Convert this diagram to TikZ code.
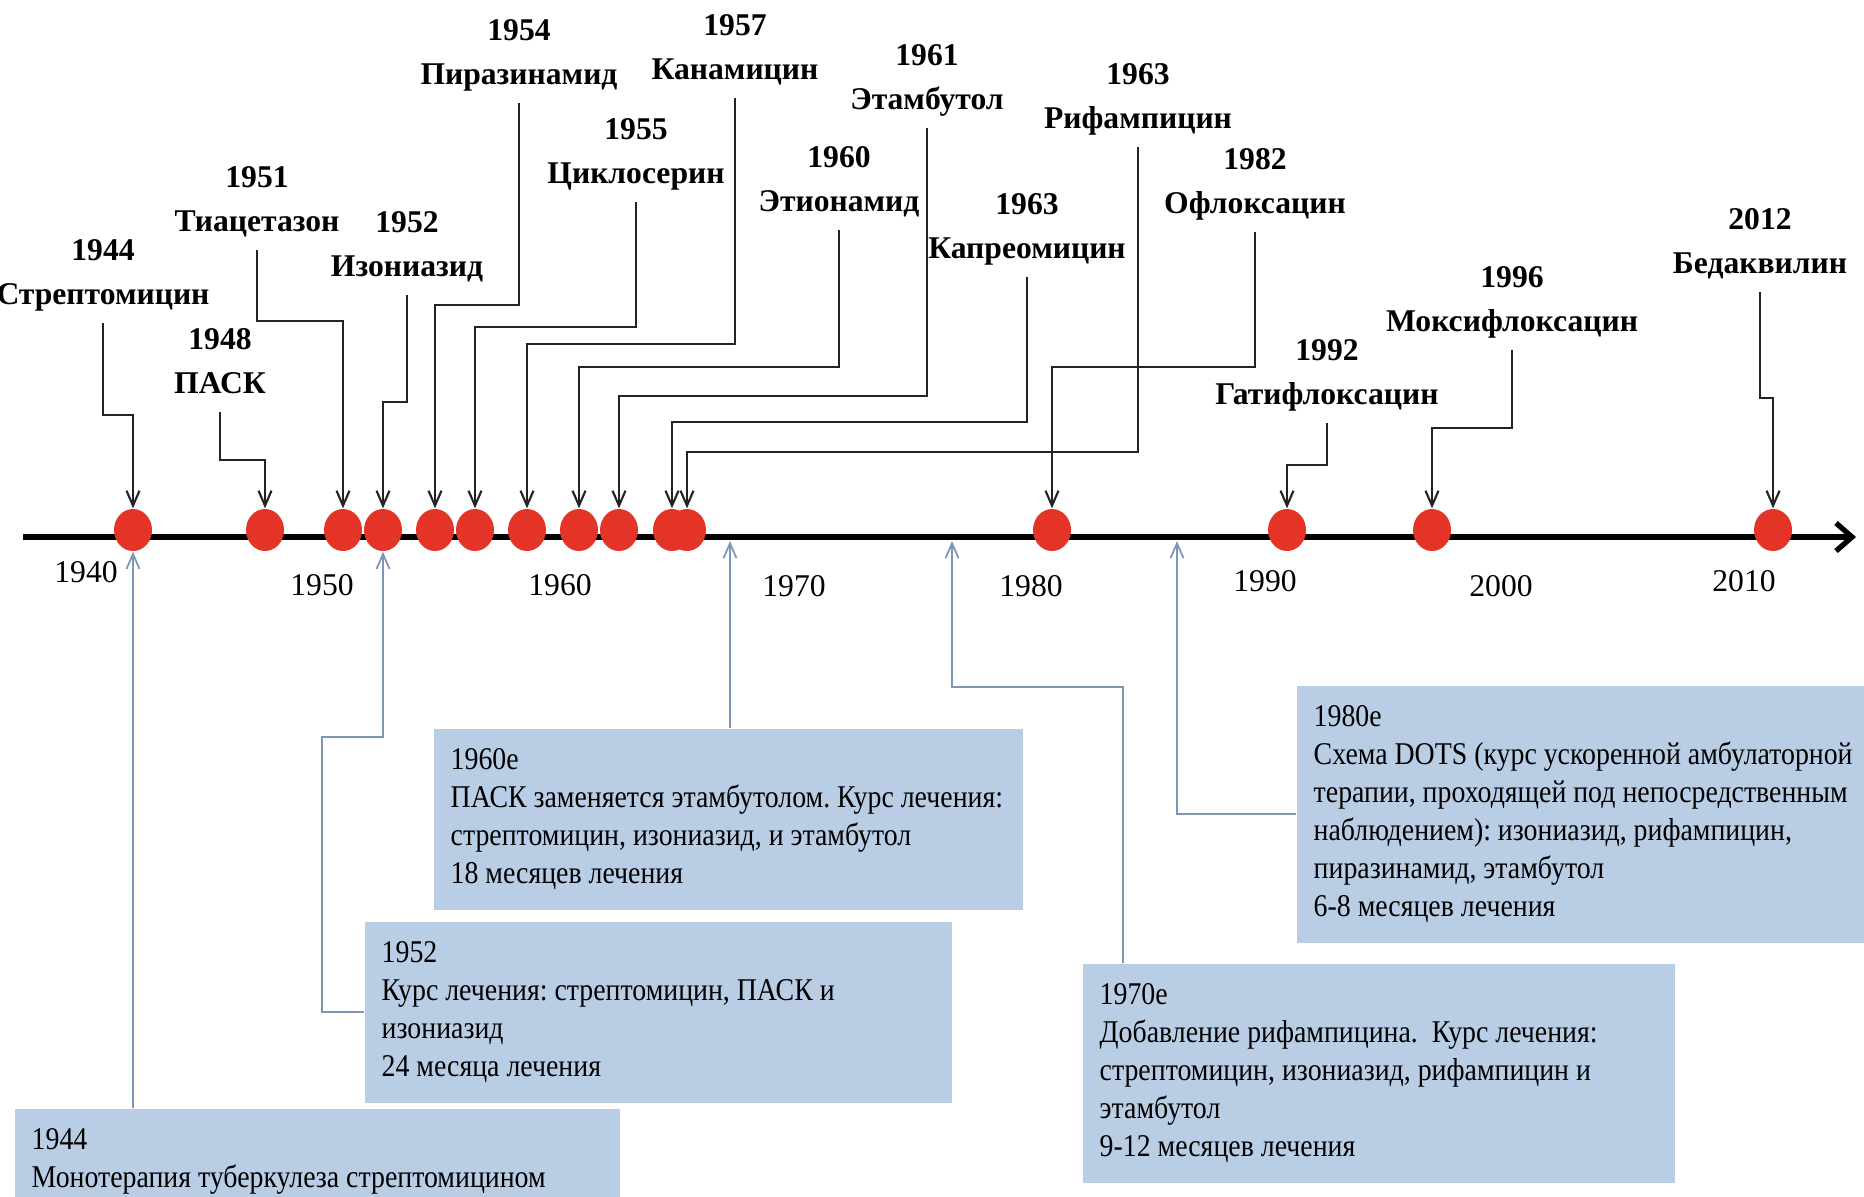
\documentclass[tikz,border=0pt]{standalone}
\usepackage{fontspec}
\setmainfont{Liberation Serif}
\newfontfamily\boxfont[FakeStretch=0.88]{Liberation Serif}
\usetikzlibrary{arrows.meta,shapes.geometric}
\definecolor{dotred}{RGB}{228,52,40}
\definecolor{boxblue}{RGB}{185,205,229}
\definecolor{lineblue}{RGB}{125,150,182}
\definecolor{linegray}{RGB}{35,35,35}
\frenchspacing

\begin{document}
\begin{tikzpicture}[x=0.1mm,y=-0.1mm,
    drug/.style={anchor=south,align=center,inner xsep=0pt,inner ysep=1.4pt,
      font=\fontsize{9}{12.5}\selectfont\bfseries},
    yearlbl/.style={font=\fontsize{9}{10}\selectfont},
    event/.style={ellipse,fill=dotred,minimum width=3.8mm,minimum height=4.2mm,inner sep=0pt},
    conn/.style={draw=linegray,line width=0.6pt,-{Straight Barb[length=1.5mm,width=1.3mm]}},
    bconn/.style={draw=lineblue,line width=0.5pt,-{Straight Barb[length=1.5mm,width=1.3mm]}},
    period/.style={anchor=north west,fill=boxblue,align=flush left,inner xsep=1.7mm,inner ysep=2mm,
      font=\boxfont\fontsize{9}{10.8}\selectfont}]
    \useasboundingbox (0,0) rectangle (1864,1196);
    \fill[white] (0,0) rectangle (1864,1196);
    \clip (0,0) rectangle (1864,1196);

    % Ось времени
    \coordinate (ax0) at (23,537);
    \coordinate (ax1) at (1856,537);
    \draw[line width=1.5pt,-{Straight Barb[length=1.6mm,width=2.8mm]}] (ax0) -- (ax1);

    \node[yearlbl] (y1940) at (86,572) {1940};
    \node[yearlbl] (y1950) at (322,585) {1950};
    \node[yearlbl] (y1960) at (560,585) {1960};
    \node[yearlbl] (y1970) at (794,586) {1970};
    \node[yearlbl] (y1980) at (1031,586) {1980};
    \node[yearlbl] (y1990) at (1265,581) {1990};
    \node[yearlbl] (y2000) at (1501,586) {2000};
    \node[yearlbl] (y2010) at (1744,581) {2010};

    % Препараты на оси
    \node[event] (d1) at (133,530) {};
    \node[event] (d2) at (265,530) {};
    \node[event] (d3) at (343,530) {};
    \node[event] (d4) at (383,530) {};
    \node[event] (d5) at (435,530) {};
    \node[event] (d6) at (475,530) {};
    \node[event] (d7) at (527,530) {};
    \node[event] (d8) at (579,530) {};
    \node[event] (d9) at (619,530) {};
    \node[event] (d10) at (672,530) {};
    \node[event] (d11) at (687,530) {};
    \node[event] (d12) at (1052,530) {};
    \node[event] (d13) at (1287,530) {};
    \node[event] (d14) at (1432,530) {};
    \node[event] (d15) at (1773,530) {};

    % Подписи препаратов
    \node[drug] (l1) at (103,323) {1944\\Стрептомицин\strut};
    \node[drug] (l2) at (220,412) {1948\\ПАСК\strut};
    \node[drug] (l3) at (257,250) {1951\\Тиацетазон\strut};
    \node[drug] (l4) at (407,295) {1952\\Изониазид\strut};
    \node[drug] (l5) at (519,103) {1954\\Пиразинамид\strut};
    \node[drug] (l6) at (636,202) {1955\\Циклосерин\strut};
    \node[drug] (l7) at (735,98) {1957\\Канамицин\strut};
    \node[drug] (l8) at (839,230) {1960\\Этионамид\strut};
    \node[drug] (l9) at (927,128) {1961\\Этамбутол\strut};
    \node[drug] (l10) at (1027,277) {1963\\Капреомицин\strut};
    \node[drug] (l11) at (1138,147) {1963\\Рифампицин\strut};
    \node[drug] (l12) at (1255,232) {1982\\Офлоксацин\strut};
    \node[drug] (l13) at (1327,423) {1992\\Гатифлоксацин\strut};
    \node[drug] (l14) at (1512,350) {1996\\Моксифлоксацин\strut};
    \node[drug] (l15) at (1760,292) {2012\\Бедаквилин\strut};

    % Стрелки к оси
    \draw[conn] (l1.south) |- (d1.north |- 0,415) -- (d1.north);
    \draw[conn] (l2.south) |- (d2.north |- 0,460) -- (d2.north);
    \draw[conn] (l3.south) |- (d3.north |- 0,321) -- (d3.north);
    \draw[conn] (l4.south) |- (d4.north |- 0,402) -- (d4.north);
    \draw[conn] (l5.south) |- (d5.north |- 0,305) -- (d5.north);
    \draw[conn] (l6.south) |- (d6.north |- 0,327) -- (d6.north);
    \draw[conn] (l7.south) |- (d7.north |- 0,344) -- (d7.north);
    \draw[conn] (l8.south) |- (d8.north |- 0,367) -- (d8.north);
    \draw[conn] (l9.south) |- (d9.north |- 0,396) -- (d9.north);
    \draw[conn] (l10.south) |- (d10.north |- 0,422) -- (d10.north);
    \draw[conn] (l11.south) |- (d11.north |- 0,452) -- (d11.north);
    \draw[conn] (l12.south) |- (d12.north |- 0,367) -- (d12.north);
    \draw[conn] (l13.south) |- (d13.north |- 0,465) -- (d13.north);
    \draw[conn] (l14.south) |- (d14.north |- 0,428) -- (d14.north);
    \draw[conn] (l15.south) |- (d15.north |- 0,398) -- (d15.north);

    % Схемы лечения
    \node[period,minimum height=24.2mm,text width=56mm] (b1980) at (1296,685)
      {1980е\\Схема DOTS (курс ускоренной амбулаторной\\терапии, проходящей под непосредственным\\наблюдением): изониазид, рифампицин,\\пиразинамид, этамбутол\\6-8 месяцев лечения};
    \node[period,minimum height=17mm,text width=55.5mm] (b1960) at (433,728)
      {1960е\\ПАСК заменяется этамбутолом. Курс лечения:\\стрептомицин, изониазид, и этамбутол\\18 месяцев лечения};
    \node[period,minimum height=16.7mm,text width=55.3mm] (b1952) at (364,921)
      {1952\\Курс лечения: стрептомицин, ПАСК и\\изониазид\\24 месяца лечения};
    \node[period,minimum height=20.6mm,text width=55.8mm] (b1970) at (1082,963)
      {1970е\\Добавление рифампицина.\ \ Курс лечения:\\стрептомицин, изониазид, рифампицин и\\этамбутол\\9-12 месяцев лечения};
    \node[period,text width=57.1mm] (b1944) at (14,1108)
      {1944\\Монотерапия туберкулеза стрептомицином};

    % Связи схем с осью
    \coordinate (t1960) at (730,541);
    \coordinate (t1970) at (952,541);
    \coordinate (t1980) at (1177,541);
    \draw[bconn] (d1.south |- b1944.north) -- (d1.south);
    \draw[bconn] (b1952.west) -| (322,737) -| (d4.south);
    \draw[bconn] (t1960 |- b1960.north) -- (t1960);
    \draw[bconn] (b1970.north -| 1123,0) |- (t1970 |- 0,687) -- (t1970);
    \draw[bconn] (b1980.west) -| (t1980);
\end{tikzpicture}
\end{document}
